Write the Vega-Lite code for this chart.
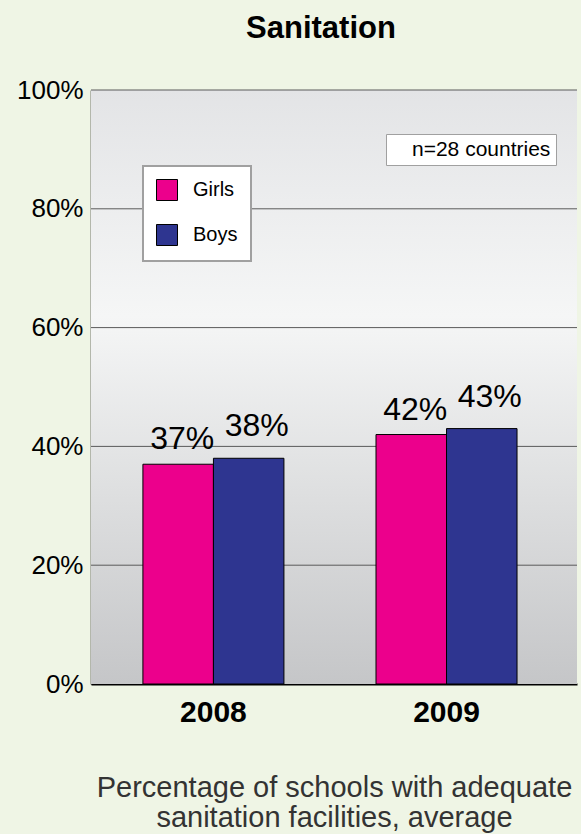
{
  "$schema": "https://vega.github.io/schema/vega-lite/v6.json",
  "width": 486,
  "height": 594,
  "autosize": "none",
  "padding": {"left": 91, "top": 90, "right": 4, "bottom": 150},
  "background": "#eff5e5",
  "config": {
    "font": "Liberation Sans",
    "view": {"stroke": null}
  },
  "title": {
    "text": "Sanitation",
    "fontSize": 31,
    "fontWeight": "bold",
    "font": "Liberation Sans",
    "color": "#000000",
    "anchor": "middle",
    "baseline": "alphabetic",
    "dx": -13,
    "offset": 8
  },
  "datasets": {
    "bars": [
      {"year": "2008", "gender": "Girls", "value": 0.37},
      {"year": "2008", "gender": "Boys", "value": 0.38},
      {"year": "2009", "gender": "Girls", "value": 0.42},
      {"year": "2009", "gender": "Boys", "value": 0.43}
    ],
    "grid": [{"v": 0.2}, {"v": 0.4}, {"v": 0.6}, {"v": 0.8}, {"v": 1.0}],
    "note": [{"note": "n=28 countries"}],
    "bg": [{"lo": 0, "hi": 1}]
  },
  "layer": [
    {
      "data": {"name": "bg"},
      "mark": {
        "type": "rect",
        "fill": {
          "gradient": "linear",
          "x1": 0, "y1": 0, "x2": 0, "y2": 1,
          "stops": [
            {"offset": 0, "color": "#e3e4e6"},
            {"offset": 0.38, "color": "#f5f6f6"},
            {"offset": 1, "color": "#c5c6c8"}
          ]
        }
      },
      "encoding": {
        "y": {"field": "lo", "type": "quantitative"},
        "y2": {"field": "hi"}
      }
    },
    {
      "data": {"name": "grid"},
      "mark": {"type": "rule", "color": "#5a5a5a", "strokeWidth": 1},
      "encoding": {
        "y": {"field": "v", "type": "quantitative"}
      }
    },
    {
      "data": {"name": "bars"},
      "mark": {"type": "bar", "stroke": "#000000", "strokeWidth": 1},
      "encoding": {
        "x": {
          "field": "year",
          "type": "nominal",
          "scale": {"paddingInner": 0.395, "paddingOuter": 0.24, "align": 0.464},
          "axis": {
            "labelAngle": 0,
            "labelFontSize": 30,
            "labelFontWeight": "bold",
            "labelColor": "#000000",
            "labelPadding": 13,
            "ticks": false,
            "domainColor": "#000000",
            "domainWidth": 2,
            "title": ["Percentage of schools with adequate", "sanitation facilities, average"],
            "titleFontSize": 29,
            "titleFontWeight": "normal",
            "titleColor": "#333333",
            "titleLineHeight": 30,
            "titlePadding": 46
          }
        },
        "xOffset": {"field": "gender", "type": "nominal", "sort": ["Girls", "Boys"], "scale": {"paddingInner": 0}},
        "y": {
          "field": "value",
          "type": "quantitative",
          "scale": {"domain": [0, 1]},
          "axis": {
            "values": [0, 0.2, 0.4, 0.6, 0.8, 1],
            "format": ".0%",
            "labelFontSize": 26,
            "labelColor": "#000000",
            "labelPadding": 8,
            "ticks": false,
            "grid": false,
            "domainColor": "#000000",
            "domainWidth": 1.5,
            "title": null
          }
        },
        "color": {
          "field": "gender",
          "type": "nominal",
          "scale": {"domain": ["Girls", "Boys"], "range": ["#ec008c", "#2e3590"]},
          "legend": {
            "orient": "none",
            "legendX": 52,
            "legendY": 76,
            "title": null,
            "fillColor": "#ffffff",
            "strokeColor": "#a0a0a0",
            "padding": 13,
            "symbolType": "square",
            "symbolSize": 441,
            "symbolStrokeColor": "#000000",
            "symbolStrokeWidth": 1,
            "labelFontSize": 20,
            "labelColor": "#000000",
            "labelOffset": 15,
            "rowPadding": 19,
            "encode": {"legend": {"update": {"strokeWidth": {"value": 2}}}}
          }
        }
      }
    },
    {
      "data": {"name": "bars"},
      "transform": [{"filter": "datum.gender == 'Girls'"}],
      "mark": {"type": "text", "fontSize": 32, "color": "#000000", "baseline": "alphabetic", "dy": -15, "dx": 4},
      "encoding": {
        "x": {"field": "year", "type": "nominal"},
        "xOffset": {"field": "gender", "type": "nominal", "sort": ["Girls", "Boys"]},
        "y": {"field": "value", "type": "quantitative"},
        "text": {"field": "value", "type": "quantitative", "format": ".0%"}
      }
    },
    {
      "data": {"name": "bars"},
      "transform": [{"filter": "datum.gender == 'Boys'"}],
      "mark": {"type": "text", "fontSize": 32, "color": "#000000", "baseline": "alphabetic", "dy": -22, "dx": 8},
      "encoding": {
        "x": {"field": "year", "type": "nominal"},
        "xOffset": {"field": "gender", "type": "nominal", "sort": ["Girls", "Boys"]},
        "y": {"field": "value", "type": "quantitative"},
        "text": {"field": "value", "type": "quantitative", "format": ".0%"}
      }
    },
    {
      "data": {"name": "note"},
      "mark": {"type": "point", "opacity": 0},
      "encoding": {
        "shape": {
          "field": "note",
          "type": "nominal",
          "legend": {
            "orient": "none",
            "legendX": 295,
            "legendY": 44,
            "title": null,
            "fillColor": "#ffffff",
            "strokeColor": "#a0a0a0",
            "padding": 5,
            "symbolSize": 64,
            "symbolOpacity": 0,
            "symbolStrokeWidth": 0,
            "labelOffset": 0,
            "labelFontSize": 21,
            "labelColor": "#000000",
            "encode": {"legend": {"update": {"strokeWidth": {"value": 2}}}}
          }
        }
      }
    }
  ]
}
